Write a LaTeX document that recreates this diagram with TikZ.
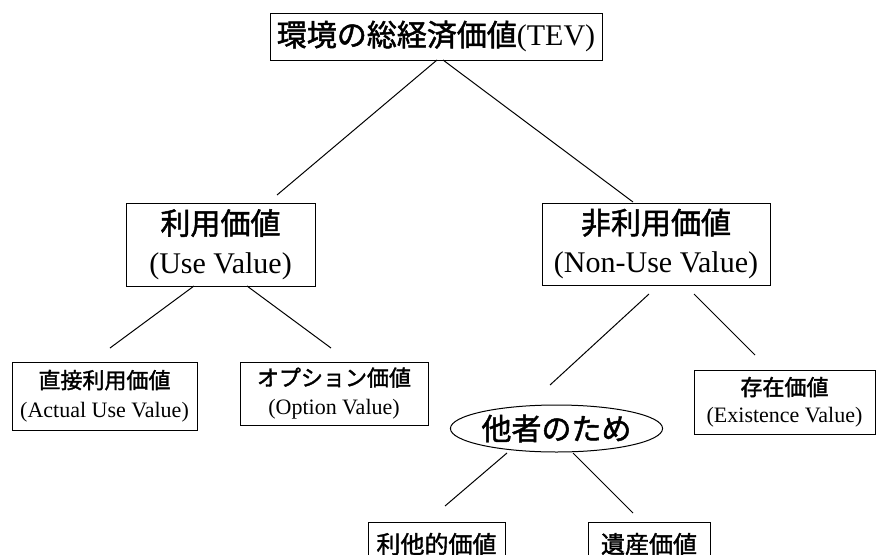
\documentclass[tikz,border=0pt]{standalone}
\usepackage{fontspec}
\setmainfont{Liberation Serif}
\newfontfamily\jpfont[FakeBold=1.6]{Noto Sans CJK JP}
\newcommand\Jp[1]{{\jpfont #1}}
\usetikzlibrary{shapes.geometric}
\tikzset{
  vbox/.style={draw, line width=1pt, align=center, inner sep=0pt},
  conn/.style={line width=1pt},
  big/.style={font=\fontsize{30}{39}\selectfont},
  small/.style={font=\fontsize{22}{29}\selectfont},
}
\begin{document}
\begin{tikzpicture}[x=1pt,y=-1pt]
\useasboundingbox (0,0) rectangle (877,554);
\clip (0,0) rectangle (877,554);
\fill[white] (0,0) rectangle (877,554);

% nodes
\node[vbox, big, minimum width=332pt, minimum height=47pt] (tev) at (436,36.5) {\Jp{環境の総経済価値}(TEV)};
\node[vbox, big, minimum width=189pt, minimum height=83pt] (use) at (220.5,244.5) {\Jp{利用価値}\\(Use Value)};
\node[vbox, big, minimum width=228pt, minimum height=82pt] (nonuse) at (656,244) {\Jp{非利用価値}\\(Non-Use Value)};
\node[vbox, small, minimum width=185pt, minimum height=68pt] (actual) at (104.5,396) {\Jp{直接利用価値}\\(Actual Use Value)};
\node[vbox, small, minimum width=188pt, minimum height=63pt] (option) at (334,393.5) {\Jp{オプション価値}\\(Option Value)};
\node[vbox, small, font=\fontsize{22}{27}\selectfont, minimum width=181pt, minimum height=64pt] (exist) at (784.5,402) {\Jp{存在価値}\\(Existence Value)};
\node[draw, ellipse, line width=1pt, inner sep=0pt, minimum width=193pt, minimum height=47pt, font=\fontsize{30}{36}\selectfont] (others) at (556.5,428.5) {\Jp{他者のため}};
\node[vbox, font=\fontsize{24}{28}\selectfont, minimum width=137pt, minimum height=44pt] (altru) at (436.5,544) {\Jp{利他的価値}};
\node[vbox, font=\fontsize{24}{28}\selectfont, minimum width=122pt, minimum height=44pt] (legacy) at (649,544) {\Jp{遺産価値}};

% connector end points
\coordinate (a1) at (437,60);  \coordinate (b1) at (277,195);
\coordinate (a2) at (443,60);  \coordinate (b2) at (633,202);
\coordinate (a3) at (194,286); \coordinate (b3) at (110,348);
\coordinate (a4) at (247,286); \coordinate (b4) at (331,348);
\coordinate (a5) at (649,294); \coordinate (b5) at (550,385);
\coordinate (a6) at (694,294); \coordinate (b6) at (755,355);
\coordinate (a7) at (507,453); \coordinate (b7) at (445,506);
\coordinate (a8) at (573,453); \coordinate (b8) at (633,513);

\draw[conn] (a1) -- (b1);
\draw[conn] (a2) -- (b2);
\draw[conn] (a3) -- (b3);
\draw[conn] (a4) -- (b4);
\draw[conn] (a5) -- (b5);
\draw[conn] (a6) -- (b6);
\draw[conn] (a7) -- (b7);
\draw[conn] (a8) -- (b8);
\end{tikzpicture}
\end{document}
